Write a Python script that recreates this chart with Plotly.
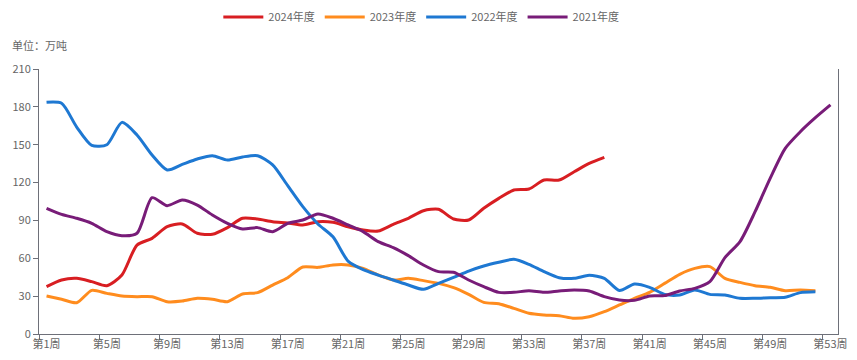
import plotly.graph_objects as go

weeks = [f"第{i}周" for i in range(1, 54)]

s2024 = [37.5, 42.8, 44.1, 41.5, 38.3, 46.8, 70.5, 75.8, 85.0, 87.2, 79.8, 79.0, 84.3,
         91.7, 91.1, 89.0, 88.0, 86.4, 89.0, 88.5, 85.0, 82.4, 81.6, 86.9, 91.7, 97.7,
         98.8, 91.1, 90.3, 99.6, 107.5, 114.1, 114.9, 122.0, 122.0, 128.6, 135.2, 140.0]

s2023 = [30.1, 27.5, 24.8, 34.6, 32.2, 30.1, 29.6, 29.6, 25.6, 26.1, 28.3, 27.5, 25.6,
         31.7, 32.8, 38.8, 44.6, 53.1, 52.8, 54.7, 54.7, 52.0, 46.8, 42.8, 44.1, 42.3,
         40.1, 36.7, 31.4, 25.1, 24.0, 20.3, 16.4, 15.1, 14.5, 12.4, 13.7, 17.7, 23.0,
         28.3, 33.0, 40.1, 47.3, 52.0, 53.4, 44.1, 40.9, 38.3, 37.0, 34.3, 34.9, 34.3]

s2022 = [183.6, 182.8, 164.0, 149.5, 150.0, 167.7, 157.7, 141.8, 130.0, 134.4, 138.7, 141.3, 137.9,
         140.3, 141.3, 134.0, 117.5, 100.9, 87.2, 77.0, 57.8, 51.0, 46.7, 42.8, 38.8, 35.4,
         40.1, 44.9, 49.9, 53.9, 56.8, 59.2, 55.2, 49.4, 44.6, 44.1, 46.5, 44.1, 34.5,
         39.6, 37.0, 31.4, 30.9, 34.9, 31.4, 30.9, 28.3, 28.3, 28.8, 29.1, 32.8, 33.5]

s2021 = [99.6, 94.8, 91.7, 87.7, 81.1, 77.9, 79.8, 108.0, 101.7, 106.2, 102.2, 94.3, 87.7,
         83.2, 84.3, 81.1, 87.7, 90.3, 95.1, 91.7, 86.4, 81.1, 73.2, 68.4, 62.1, 54.7,
         49.4, 48.9, 42.8, 37.5, 33.0, 33.0, 34.3, 33.0, 34.1, 34.9, 34.1, 29.6, 26.9,
         26.7, 30.1, 30.4, 34.1, 36.2, 41.5, 60.5, 73.2, 96.9, 123.3, 147.1, 160.3, 171.4, 181.5]

series = [("2024年度", s2024, "#d81e22"),
          ("2023年度", s2023, "#ff8c1e"),
          ("2022年度", s2022, "#1e78d2"),
          ("2021年度", s2021, "#781c78")]

yticks = [0, 30, 60, 90, 120, 150, 180, 210]

fig = go.Figure()
for name, vals, color in series:
    fig.add_trace(go.Scatter(
        x=weeks[:len(vals)], y=vals, name=name, mode="lines",
        line=dict(color=color, width=3, shape="spline", smoothing=0.7),
    ))

font_family = "Noto Sans CJK SC, Noto Sans, sans-serif"
fig.update_layout(
    width=857, height=360,
    margin=dict(l=39, r=19, t=69, b=26, autoexpand=False),
    plot_bgcolor="white", paper_bgcolor="white",
    font=dict(family=font_family, size=11, color="#666666"),
    showlegend=True,
    legend=dict(orientation="h", x=0.4785, xanchor="center", y=1.196, yanchor="middle",
                font=dict(size=11, color="#666666"), itemwidth=40, tracegroupgap=0),
    xaxis=dict(type="category", categoryorder="array", categoryarray=weeks,
               range=[-0.5, 52.5], tickson="boundaries", dtick=4, tickangle=0,
               showline=True, linecolor="#6e7079", linewidth=1,
               ticks="outside", ticklen=5, tickcolor="#6e7079",
               showgrid=False, tickfont=dict(size=11, color="#666666")),
    yaxis=dict(range=[0, 210], tickvals=yticks, showline=True, mirror=True,
               linecolor="#6e7079", linewidth=1, ticks="outside", ticklen=5,
               tickcolor="#6e7079", showgrid=False, zeroline=False,
               tickfont=dict(size=11, color="#666666")),
    annotations=[dict(text="单位：万吨", xref="paper", yref="paper",
                      x=-0.036, y=1.09, xanchor="left", yanchor="middle",
                      showarrow=False, font=dict(size=11, color="#666666"))],
)

fig.write_html("out.html", config={"displayModeBar": False},
               post_script="document.body.style.margin='0';document.body.style.overflow='hidden';")
